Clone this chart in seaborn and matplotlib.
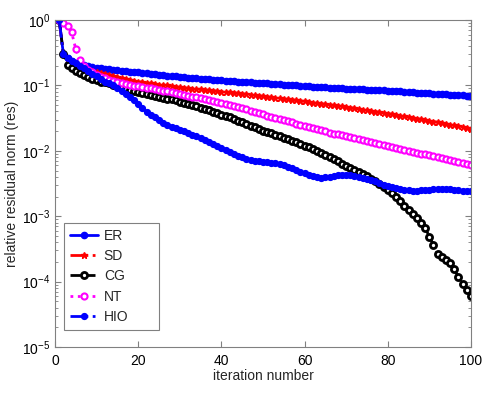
import numpy as np
import pandas as pd
import matplotlib
matplotlib.use("Agg")
import matplotlib.pyplot as plt
import seaborn as sns

# ------------------------------------------------------------------
#  Datos (exponentes log10 del residuo relativo)
# ------------------------------------------------------------------
iteraciones = list(range(1, 101))

er_log10 = [
    0.00, -0.52, -0.58, -0.62, -0.65, -0.67, -0.69, -0.70, -0.72, -0.73,
    -0.74, -0.75, -0.755, -0.76, -0.77, -0.775, -0.78, -0.79, -0.795, -0.80,
    -0.81, -0.81, -0.82, -0.83, -0.835, -0.84, -0.85, -0.855, -0.86, -0.87,
    -0.875, -0.88, -0.885, -0.89, -0.895, -0.90, -0.905, -0.91, -0.915, -0.92,
    -0.925, -0.93, -0.935, -0.94, -0.945, -0.95, -0.955, -0.96, -0.963, -0.967,
    -0.97, -0.975, -0.98, -0.985, -0.99, -0.995, -1.00, -1.00, -1.005, -1.01,
    -1.013, -1.017, -1.02, -1.025, -1.03, -1.032, -1.036, -1.04, -1.043, -1.047,
    -1.05, -1.053, -1.057, -1.06, -1.063, -1.067, -1.07, -1.073, -1.077, -1.08,
    -1.084, -1.088, -1.092, -1.096, -1.10, -1.104, -1.108, -1.112, -1.116, -1.12,
    -1.124, -1.128, -1.132, -1.136, -1.14, -1.144, -1.148, -1.152, -1.156, -1.16,
]

sd_log10 = [
    0.00, -0.52, -0.60, -0.66, -0.70, -0.72, -0.74, -0.76, -0.78, -0.80,
    -0.815, -0.83, -0.845, -0.86, -0.875, -0.89, -0.905, -0.92, -0.93, -0.94,
    -0.95, -0.96, -0.97, -0.98, -0.99, -0.995, -1.00, -1.01, -1.02, -1.03,
    -1.036, -1.043, -1.049, -1.056, -1.062, -1.069, -1.075, -1.081, -1.088, -1.094,
    -1.10, -1.107, -1.113, -1.12, -1.128, -1.135, -1.143, -1.151, -1.158, -1.166,
    -1.174, -1.182, -1.189, -1.197, -1.205, -1.212, -1.22, -1.228, -1.237, -1.245,
    -1.254, -1.262, -1.271, -1.279, -1.288, -1.296, -1.305, -1.313, -1.322, -1.33,
    -1.34, -1.35, -1.36, -1.37, -1.38, -1.39, -1.40, -1.41, -1.42, -1.43,
    -1.441, -1.452, -1.463, -1.474, -1.485, -1.496, -1.507, -1.518, -1.529, -1.54,
    -1.552, -1.564, -1.576, -1.588, -1.60, -1.612, -1.624, -1.636, -1.648, -1.66,
]

cg_log10 = [
    0.00, -0.52, -0.68, -0.74, -0.78, -0.81, -0.84, -0.87, -0.895, -0.92,
    -0.94, -0.955, -0.97, -0.99, -1.01, -1.03, -1.05, -1.07, -1.085, -1.10,
    -1.115, -1.13, -1.14, -1.155, -1.17, -1.185, -1.20, -1.215, -1.23, -1.25,
    -1.27, -1.285, -1.305, -1.32, -1.34, -1.36, -1.38, -1.40, -1.425, -1.45,
    -1.47, -1.49, -1.515, -1.54, -1.565, -1.59, -1.615, -1.64, -1.665, -1.69,
    -1.71, -1.73, -1.755, -1.78, -1.80, -1.82, -1.845, -1.87, -1.89, -1.92,
    -1.945, -1.97, -2.00, -2.03, -2.06, -2.09, -2.12, -2.16, -2.20, -2.23,
    -2.26, -2.29, -2.32, -2.36, -2.39, -2.43, -2.46, -2.50, -2.55, -2.60,
    -2.65, -2.70, -2.77, -2.84, -2.90, -2.97, -3.03, -3.10, -3.18, -3.31,
    -3.44, -3.58, -3.63, -3.67, -3.72, -3.81, -3.93, -4.03, -4.13, -4.22,
]

nt_log10 = [
    0.00, -0.05, -0.09, -0.19, -0.45, -0.61, -0.70, -0.76, -0.80, -0.84,
    -0.865, -0.89, -0.91, -0.93, -0.95, -0.965, -0.98, -0.995, -1.005, -1.015,
    -1.025, -1.035, -1.045, -1.055, -1.065, -1.08, -1.09, -1.10, -1.115, -1.13,
    -1.14, -1.155, -1.17, -1.18, -1.195, -1.21, -1.225, -1.24, -1.255, -1.27,
    -1.285, -1.30, -1.315, -1.33, -1.345, -1.365, -1.385, -1.40, -1.42, -1.44,
    -1.46, -1.475, -1.495, -1.515, -1.53, -1.55, -1.565, -1.585, -1.60, -1.62,
    -1.635, -1.65, -1.67, -1.685, -1.70, -1.72, -1.735, -1.75, -1.765, -1.78,
    -1.795, -1.81, -1.825, -1.84, -1.855, -1.87, -1.885, -1.90, -1.915, -1.93,
    -1.944, -1.958, -1.972, -1.986, -2.00, -2.014, -2.028, -2.042, -2.056, -2.07,
    -2.085, -2.10, -2.115, -2.13, -2.145, -2.16, -2.175, -2.19, -2.205, -2.22,
]

hio_log10 = [
    0.00, -0.52, -0.58, -0.62, -0.66, -0.70, -0.74, -0.78, -0.82, -0.86,
    -0.90, -0.94, -0.97, -1.00, -1.04, -1.08, -1.13, -1.18, -1.23, -1.29,
    -1.35, -1.40, -1.45, -1.49, -1.53, -1.57, -1.60, -1.63, -1.655, -1.68,
    -1.70, -1.73, -1.755, -1.78, -1.81, -1.84, -1.87, -1.90, -1.93, -1.96,
    -1.99, -2.02, -2.05, -2.08, -2.10, -2.12, -2.135, -2.15, -2.16, -2.17,
    -2.175, -2.18, -2.19, -2.205, -2.22, -2.245, -2.27, -2.295, -2.32, -2.345,
    -2.37, -2.39, -2.40, -2.41, -2.405, -2.395, -2.38, -2.37, -2.365, -2.37,
    -2.375, -2.385, -2.395, -2.41, -2.425, -2.44, -2.46, -2.49, -2.515, -2.54,
    -2.56, -2.575, -2.59, -2.60, -2.605, -2.61, -2.61, -2.605, -2.60, -2.595,
    -2.59, -2.59, -2.59, -2.59, -2.59, -2.595, -2.60, -2.61, -2.615, -2.62,
]

metodos = ["ER", "SD", "CG", "NT", "HIO"]

# Tabla larga con los residuos ya en escala lineal
df = pd.concat([
    pd.DataFrame({"iter": iteraciones, "res": 10 ** np.array(v), "metodo": m})
    for m, v in zip(metodos, [er_log10, sd_log10, cg_log10, nt_log10, hio_log10])
])

# ------------------------------------------------------------------
#  Estilo tipo MATLAB
# ------------------------------------------------------------------
sns.set_style("ticks")
plt.rcParams["font.family"] = ["Liberation Sans", "DejaVu Sans"]
plt.rcParams["axes.edgecolor"] = "#808080"
plt.rcParams["xtick.color"] = "#808080"
plt.rcParams["ytick.color"] = "#808080"
plt.rcParams["xtick.labelcolor"] = "black"
plt.rcParams["ytick.labelcolor"] = "black"

estilos = {
    "ER":  dict(color="#0000ff", linestyle="-",  marker="o", markersize=4.5, mfc="#0000ff", mec="#0000ff", mew=1),
    "SD":  dict(color="#ff0000", linestyle="-.", marker="*", markersize=5.0, mfc="#ff0000", mec="#ff0000", mew=1),
    "CG":  dict(color="black",   linestyle="--", marker="o", markersize=4.4, mfc="white",   mec="black",   mew=2.0),
    "NT":  dict(color="#ff00ff", linestyle=":",  marker="o", markersize=4.4, mfc="white",   mec="#ff00ff", mew=1.5),
    "HIO": dict(color="#0000ff", linestyle="-.", marker="o", markersize=4.2, mfc="#0000ff", mec="#0000ff", mew=1),
}

fig = plt.figure(figsize=(4.83, 3.93), dpi=100)
ax = fig.add_axes([0.114, 0.117, 0.861, 0.832])

for m in metodos:
    sub = df[df["metodo"] == m]
    sns.lineplot(data=sub, x="iter", y="res", ax=ax, label=m, linewidth=2,
                 sort=False, errorbar=None, **estilos[m])

ax.set_yscale("log")
ax.set_xlim(0, 100)
ax.set_ylim(1e-5, 1)
ax.set_xticks([0, 20, 40, 60, 80, 100])
ax.set_yticks([1e-5, 1e-4, 1e-3, 1e-2, 1e-1, 1])
ax.tick_params(which="both", direction="in", top=True, right=True, labelsize=10)
ax.tick_params(which="major", length=4)
ax.tick_params(which="minor", length=2)
ax.tick_params(axis="x", pad=5)
for s in ax.spines.values():
    s.set_linewidth(0.8)

ax.set_xlabel("iteration number", fontsize=10, labelpad=1)
ax.set_ylabel("relative residual norm (res)", fontsize=10, labelpad=2)

# caja de leyenda ancha como en MATLAB
leg = ax.legend(loc="lower left", bbox_to_anchor=(0.022, 0.052, 0.228, 0.33),
                mode="expand", borderaxespad=0, fontsize=10, frameon=True,
                fancybox=False, framealpha=1, handlelength=2.0,
                handletextpad=0.4, labelspacing=0.45, borderpad=0.45)
leg.get_frame().set_edgecolor("#808080")
leg.get_frame().set_linewidth(0.8)

fig.savefig("out.png", dpi=100)
